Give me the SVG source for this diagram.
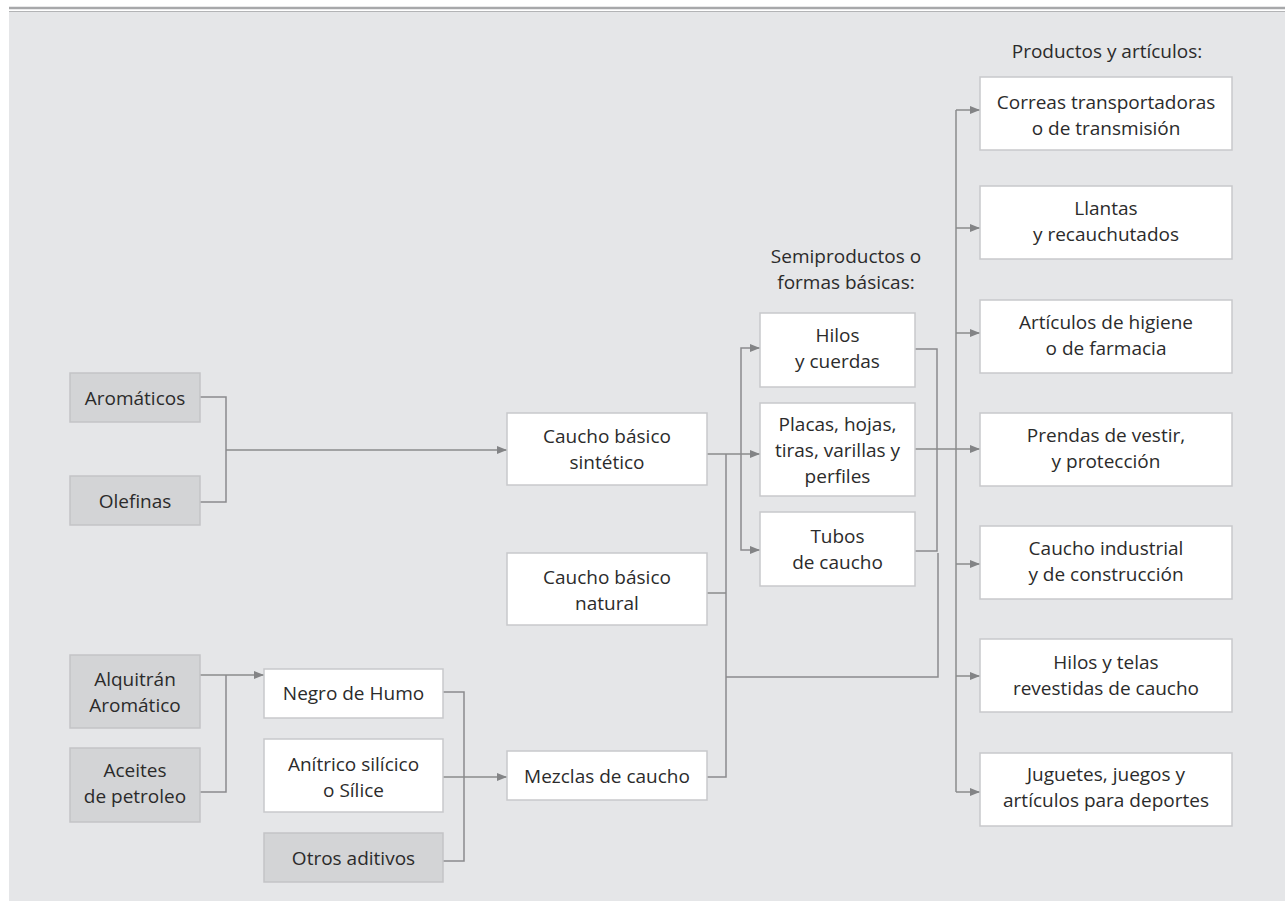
<svg xmlns="http://www.w3.org/2000/svg" width="1285" height="901" viewBox="0 0 1285 901">
<defs>
<style>
.bg{fill:#e5e6e8}
.w{fill:#ffffff;stroke:#c8c9cb;stroke-width:1.5}
.g{fill:#d3d4d6;stroke:#c3c4c6;stroke-width:1.5}
text{font-family:"Open Sans","Liberation Sans",sans-serif;font-size:19px;fill:#2b2b2b;text-anchor:middle}
.c path{fill:none;stroke:#8a8b8d;stroke-width:1.5}
.a{marker-end:url(#arr)}
</style>
<marker id="arr" markerUnits="userSpaceOnUse" markerWidth="11" markerHeight="9" refX="10" refY="4" orient="auto">
<path d="M0,0 L10,4 L0,8 z" fill="#838486"/>
</marker>
</defs>
<rect x="0" y="0" width="1285" height="901" fill="#ffffff"/>
<rect class="bg" x="9" y="12" width="1276" height="889"/>
<line x1="9" y1="8" x2="1285" y2="8" stroke="#a7a8aa" stroke-width="2.5"/>
<line x1="9" y1="11.5" x2="1285" y2="11.5" stroke="#b3b4b6" stroke-width="1"/>

<g class="c">
<path d="M200,397 H226 V502 H200"/>
<path class="a" d="M226,450 H507"/>
<path class="a" d="M200,675 H264"/>
<path d="M200,792 H226 V675"/>
<path d="M443,692 H464 V861 H443"/>
<path class="a" d="M443,777 H507"/>
<path class="a" d="M707,454 H760"/>
<path class="a" d="M741,454 V348 H760"/>
<path class="a" d="M741,454 V550 H760"/>
<path d="M726,454 V777 H707"/>
<path d="M707,593 H726"/>
<path d="M726,677 H938 V553"/>
<path d="M915,349 H937 V551 H915"/>
<path class="a" d="M915,449 H980"/>
<path d="M956,110 V792"/>
<path class="a" d="M956,110 H980"/>
<path class="a" d="M956,228 H980"/>
<path class="a" d="M956,333 H980"/>
<path class="a" d="M956,564 H980"/>
<path class="a" d="M956,676 H980"/>
<path class="a" d="M956,792 H980"/>
</g>

<text x="846" y="263">Semiproductos o</text>
<text x="846" y="289">formas básicas:</text>
<text x="1107" y="58">Productos y artículos:</text>

<g id="aromaticos"><rect class="g" x="70" y="373" width="130" height="49"/><text x="135" y="405">Aromáticos</text></g>
<g id="olefinas"><rect class="g" x="70" y="476" width="130" height="49"/><text x="135" y="508">Olefinas</text></g>
<g id="alquitran"><rect class="g" x="70" y="655" width="130" height="73"/><text x="135" y="686">Alquitrán</text><text x="135" y="712">Aromático</text></g>
<g id="aceites"><rect class="g" x="70" y="748" width="130" height="74"/><text x="135" y="777">Aceites</text><text x="135" y="803">de petroleo</text></g>

<g id="negro"><rect class="w" x="264" y="669" width="179" height="49"/><text x="353.5" y="700">Negro de Humo</text></g>
<g id="anitrico"><rect class="w" x="264" y="739" width="179" height="73"/><text x="353.5" y="771">Anítrico silícico</text><text x="353.5" y="797">o Sílice</text></g>
<g id="otros"><rect class="g" x="264" y="833" width="179" height="49"/><text x="353.5" y="865">Otros aditivos</text></g>

<g id="sintetico"><rect class="w" x="507" y="413" width="200" height="72"/><text x="607" y="443">Caucho básico</text><text x="607" y="469">sintético</text></g>
<g id="natural"><rect class="w" x="507" y="553" width="200" height="72"/><text x="607" y="584">Caucho básico</text><text x="607" y="610">natural</text></g>
<g id="mezclas"><rect class="w" x="507" y="751" width="200" height="49"/><text x="607" y="783">Mezclas de caucho</text></g>

<g id="hilos"><rect class="w" x="760" y="313" width="155" height="74"/><text x="837.5" y="342">Hilos</text><text x="837.5" y="368">y cuerdas</text></g>
<g id="placas"><rect class="w" x="760" y="403" width="155" height="93"/><text x="837.5" y="431">Placas, hojas,</text><text x="837.5" y="457">tiras, varillas y</text><text x="837.5" y="483">perfiles</text></g>
<g id="tubos"><rect class="w" x="760" y="512" width="155" height="74"/><text x="837.5" y="543">Tubos</text><text x="837.5" y="569">de caucho</text></g>

<g id="correas"><rect class="w" x="980" y="77" width="252" height="73"/><text x="1106" y="109">Correas transportadoras</text><text x="1106" y="135">o de transmisión</text></g>
<g id="llantas"><rect class="w" x="980" y="186" width="252" height="73"/><text x="1106" y="215">Llantas</text><text x="1106" y="241">y recauchutados</text></g>
<g id="higiene"><rect class="w" x="980" y="300" width="252" height="73"/><text x="1106" y="329">Artículos de higiene</text><text x="1106" y="355">o de farmacia</text></g>
<g id="prendas"><rect class="w" x="980" y="413" width="252" height="73"/><text x="1106" y="442">Prendas de vestir,</text><text x="1106" y="468">y protección</text></g>
<g id="industrial"><rect class="w" x="980" y="526" width="252" height="73"/><text x="1106" y="555">Caucho industrial</text><text x="1106" y="581">y de construcción</text></g>
<g id="telas"><rect class="w" x="980" y="639" width="252" height="73"/><text x="1106" y="669">Hilos y telas</text><text x="1106" y="695">revestidas de caucho</text></g>
<g id="juguetes"><rect class="w" x="980" y="753" width="252" height="73"/><text x="1106" y="781">Juguetes, juegos y</text><text x="1106" y="807">artículos para deportes</text></g>
</svg>
